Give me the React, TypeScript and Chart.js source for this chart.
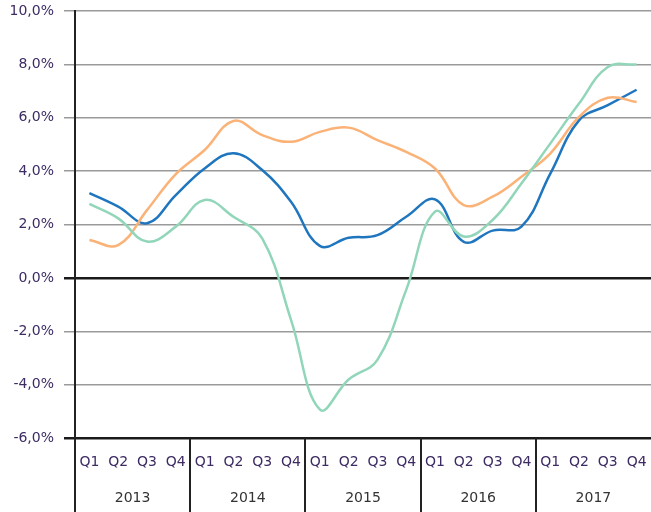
import React, { useEffect, useRef } from "react";
import { Chart, registerables } from "chart.js";

Chart.register(...registerables);

const quarters = [
  "Q1", "Q2", "Q3", "Q4", "Q1", "Q2", "Q3", "Q4", "Q1", "Q2",
  "Q3", "Q4", "Q1", "Q2", "Q3", "Q4", "Q1", "Q2", "Q3", "Q4",
];
const years = ["2013", "2014", "2015", "2016", "2017"];

const blueSeries = [3.18, 2.67, 2.05, 3.1, 4.1, 4.67, 4.04, 2.85, 1.2, 1.5, 1.6, 2.29, 2.94, 1.35, 1.77, 1.92, 3.9, 5.9, 6.47, 7.05];
const orangeSeries = [1.42, 1.23, 2.54, 3.89, 4.79, 5.88, 5.35, 5.1, 5.47, 5.63, 5.16, 4.72, 4.1, 2.73, 3.04, 3.79, 4.66, 6.03, 6.75, 6.59];
const greenSeries = [2.77, 2.23, 1.36, 1.92, 2.92, 2.29, 1.48, -1.57, -4.93, -3.81, -3.07, -0.45, 2.48, 1.55, 2.17, 3.54, 5.03, 6.53, 7.9, 8.0];

const yMin = -6;
const yMax = 10;
const yStep = 2;

const FONT = "'DejaVu Sans', sans-serif";

const separatorPlugin = {
  id: "yearSeparators",
  afterDraw(chart: any) {
    const xs = chart.scales.x;
    const ctx = chart.ctx;
    const half = (xs.getPixelForValue(1) - xs.getPixelForValue(0)) / 2;
    ctx.save();
    ctx.strokeStyle = "#222";
    ctx.lineWidth = 2;
    for (let k = 0; k < years.length; k++) {
      const px = Math.round(xs.getPixelForValue(k * 4) - half);
      ctx.beginPath();
      ctx.moveTo(px, chart.chartArea.bottom);
      ctx.lineTo(px, chart.height);
      ctx.stroke();
    }
    ctx.restore();
  },
};

export default function App() {
  const ref = useRef<HTMLCanvasElement>(null);
  useEffect(() => {
    if (!ref.current) return;
    const chart = new Chart(ref.current, {
      type: "line",
      data: {
        labels: quarters,
        datasets: [
          { data: greenSeries, borderColor: "#92d6ba", borderWidth: 2.5, pointRadius: 0, tension: 0.4, fill: false },
          { data: orangeSeries, borderColor: "#fbb277", borderWidth: 2.5, pointRadius: 0, tension: 0.4, fill: false },
          { data: blueSeries, borderColor: "#1f76bf", borderWidth: 2.5, pointRadius: 0, tension: 0.4, fill: false },
        ],
      },
      options: {
        responsive: false,
        animation: false,
        layout: { padding: { top: 11, right: 0, left: 0, bottom: 0 } },
        plugins: { legend: { display: false }, tooltip: { enabled: false } },
        scales: {
          x: {
            type: "category",
            position: "bottom",
            weight: 0,
            offset: true,
            grid: { display: false, drawTicks: false },
            border: { display: false },
            ticks: { color: "#3d2b63", font: { family: FONT, size: 14 }, padding: 16, maxRotation: 0, autoSkip: false },
            afterFit: (s: any) => { s.height = 42; s.paddingLeft = 0; s.paddingRight = 0; },
          },
          x2: {
            type: "category",
            position: "bottom",
            weight: 1,
            offset: true,
            labels: years,
            grid: { display: false, drawTicks: false },
            border: { display: false },
            ticks: { color: "#333333", font: { family: FONT, size: 14 }, padding: 10, maxRotation: 0 },
            afterFit: (s: any) => { s.height = 32; s.paddingLeft = 0; s.paddingRight = 0; },
          },
          y: {
            min: yMin,
            max: yMax,
            ticks: {
              stepSize: yStep,
              color: "#3d2b63",
              font: { family: FONT, size: 14 },
              padding: 10,
              callback: (v: any) => Number(v).toFixed(1).replace(".", ",") + "%",
            },
            grid: {
              color: (c: any) => (c.tick && (c.tick.value === 0 || c.tick.value === yMin) ? "#1a1a1a" : "#9a9a9a"),
              lineWidth: (c: any) => (c.tick && (c.tick.value === 0 || c.tick.value === yMin) ? 2.5 : 1.5),
              tickLength: 11,
            },
            border: { display: true, color: "#222", width: 2 },
            afterFit: (s: any) => { s.width = 75; s.paddingTop = 0; s.paddingBottom = 0; },
          },
        },
      },
      plugins: [separatorPlugin],
    });
    return () => chart.destroy();
  }, []);
  return (
    <div style={{ position: "absolute", left: 0, top: 0, width: 651, height: 512, background: "#fff" }}>
      <canvas ref={ref} width={651} height={512} />
    </div>
  );
}
